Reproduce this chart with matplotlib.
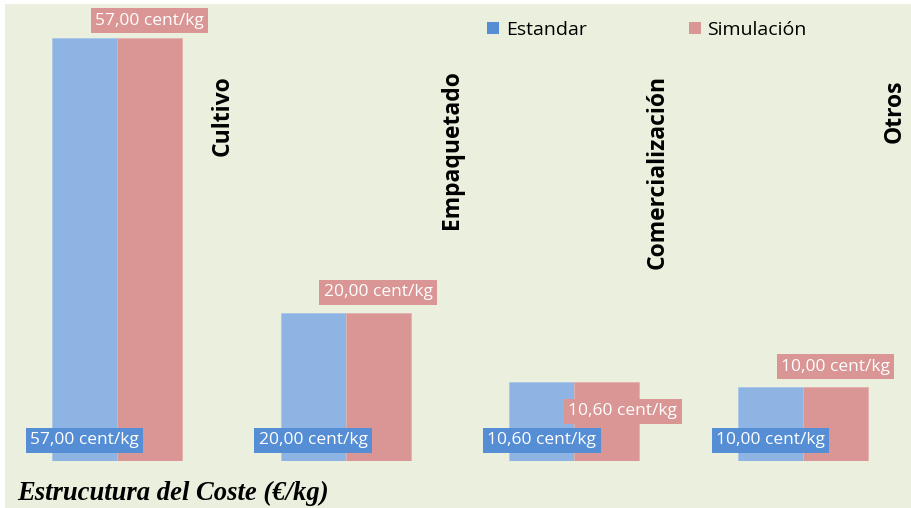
import matplotlib.pyplot as plt
from matplotlib.patches import Rectangle, Patch
import numpy as np

categories = ['Cultivo', 'Empaquetado', 'Comercialización', 'Otros']
estandar = [57.00, 20.00, 10.60, 10.00]
simulacion = [57.00, 20.00, 10.60, 10.00]
series_names = ['Estandar', 'Simulación']

blue = '#8EB4E3'
pink = '#D99694'
blue_box = '#558ED5'
bg = '#EBF0DE'

fig = plt.figure(figsize=(9.11, 5.08), dpi=100, facecolor='white')
fig.patches.append(Rectangle((5 / 911, 0), 1, 1 - 4 / 508, transform=fig.transFigure,
                             facecolor=bg, edgecolor='none', zorder=-10))

ax = fig.add_axes([0, 47 / 508, 1, 461 / 508])
ax.set_facecolor('none')
ax.set_xlim(-117 / 228.7, (911 - 117) / 228.7)
ax.set_ylim(0, 62.1)
ax.axis('off')

x = np.arange(len(categories))
w = 0.284
ax.bar(x - w / 2, estandar, w, color=blue, edgecolor='#A9C6EA', linewidth=0.6)
ax.bar(x + w / 2, simulacion, w, color=pink, edgecolor='#E3B1AF', linewidth=0.6)

lab_font = dict(family='Open Sans', fontsize=12.5, color='white')
# blue labels at the bottom of each bar
for xi, v in zip(x, estandar):
    ax.text(xi - w / 2, 2.8, f'{v:.2f}'.replace('.', ',') + ' cent/kg', ha='center', va='center',
            bbox=dict(boxstyle='square,pad=0.25', facecolor=blue_box, edgecolor='none'), **lab_font)

# pink labels, placed by Excel above the bars (third one lands inside)
pink_dx = [0, 0, 0.07, 0]
pink_dy = [2.3, 2.7, -3.9, 2.7]
for xi, v, dx, dy in zip(x, simulacion, pink_dx, pink_dy):
    ax.text(xi + w / 2 + dx, v + dy, f'{v:.2f}'.replace('.', ',') + ' cent/kg', ha='center',
            va='center', bbox=dict(boxstyle='square,pad=0.25', facecolor=pink, edgecolor='none'),
            **lab_font)

# rotated category names
cat_dx = [0.463, 0.463, 0.363, 0.402]
cat_top = [75, 70, 75, 80]
for xi, name, dx, top in zip(x, categories, cat_dx, cat_top):
    ax.text(xi + dx, (461 - top) / 7.42, name, rotation=90, ha='center', va='top',
            family='Open Sans', fontweight='bold', fontsize=16.5, color='black')

handles = [Patch(facecolor=blue_box, label=series_names[0]),
           Patch(facecolor=pink, label=series_names[1])]
fig.legend(handles=handles, loc='center left', bbox_to_anchor=(470 / 911, 1 - 30 / 508),
           ncol=2, frameon=False, handlelength=0.6, handleheight=0.6, handletextpad=0.35,
           columnspacing=5.25, prop=dict(family='Open Sans', size=14))

fig.text(17 / 911, 8 / 508, 'Estrucutura del Coste (€/kg)', family='Liberation Serif',
         fontweight='bold', style='italic', fontsize=19.2, color='black', ha='left',
         va='baseline')

plt.savefig('out.png', dpi=100, facecolor=fig.get_facecolor())
